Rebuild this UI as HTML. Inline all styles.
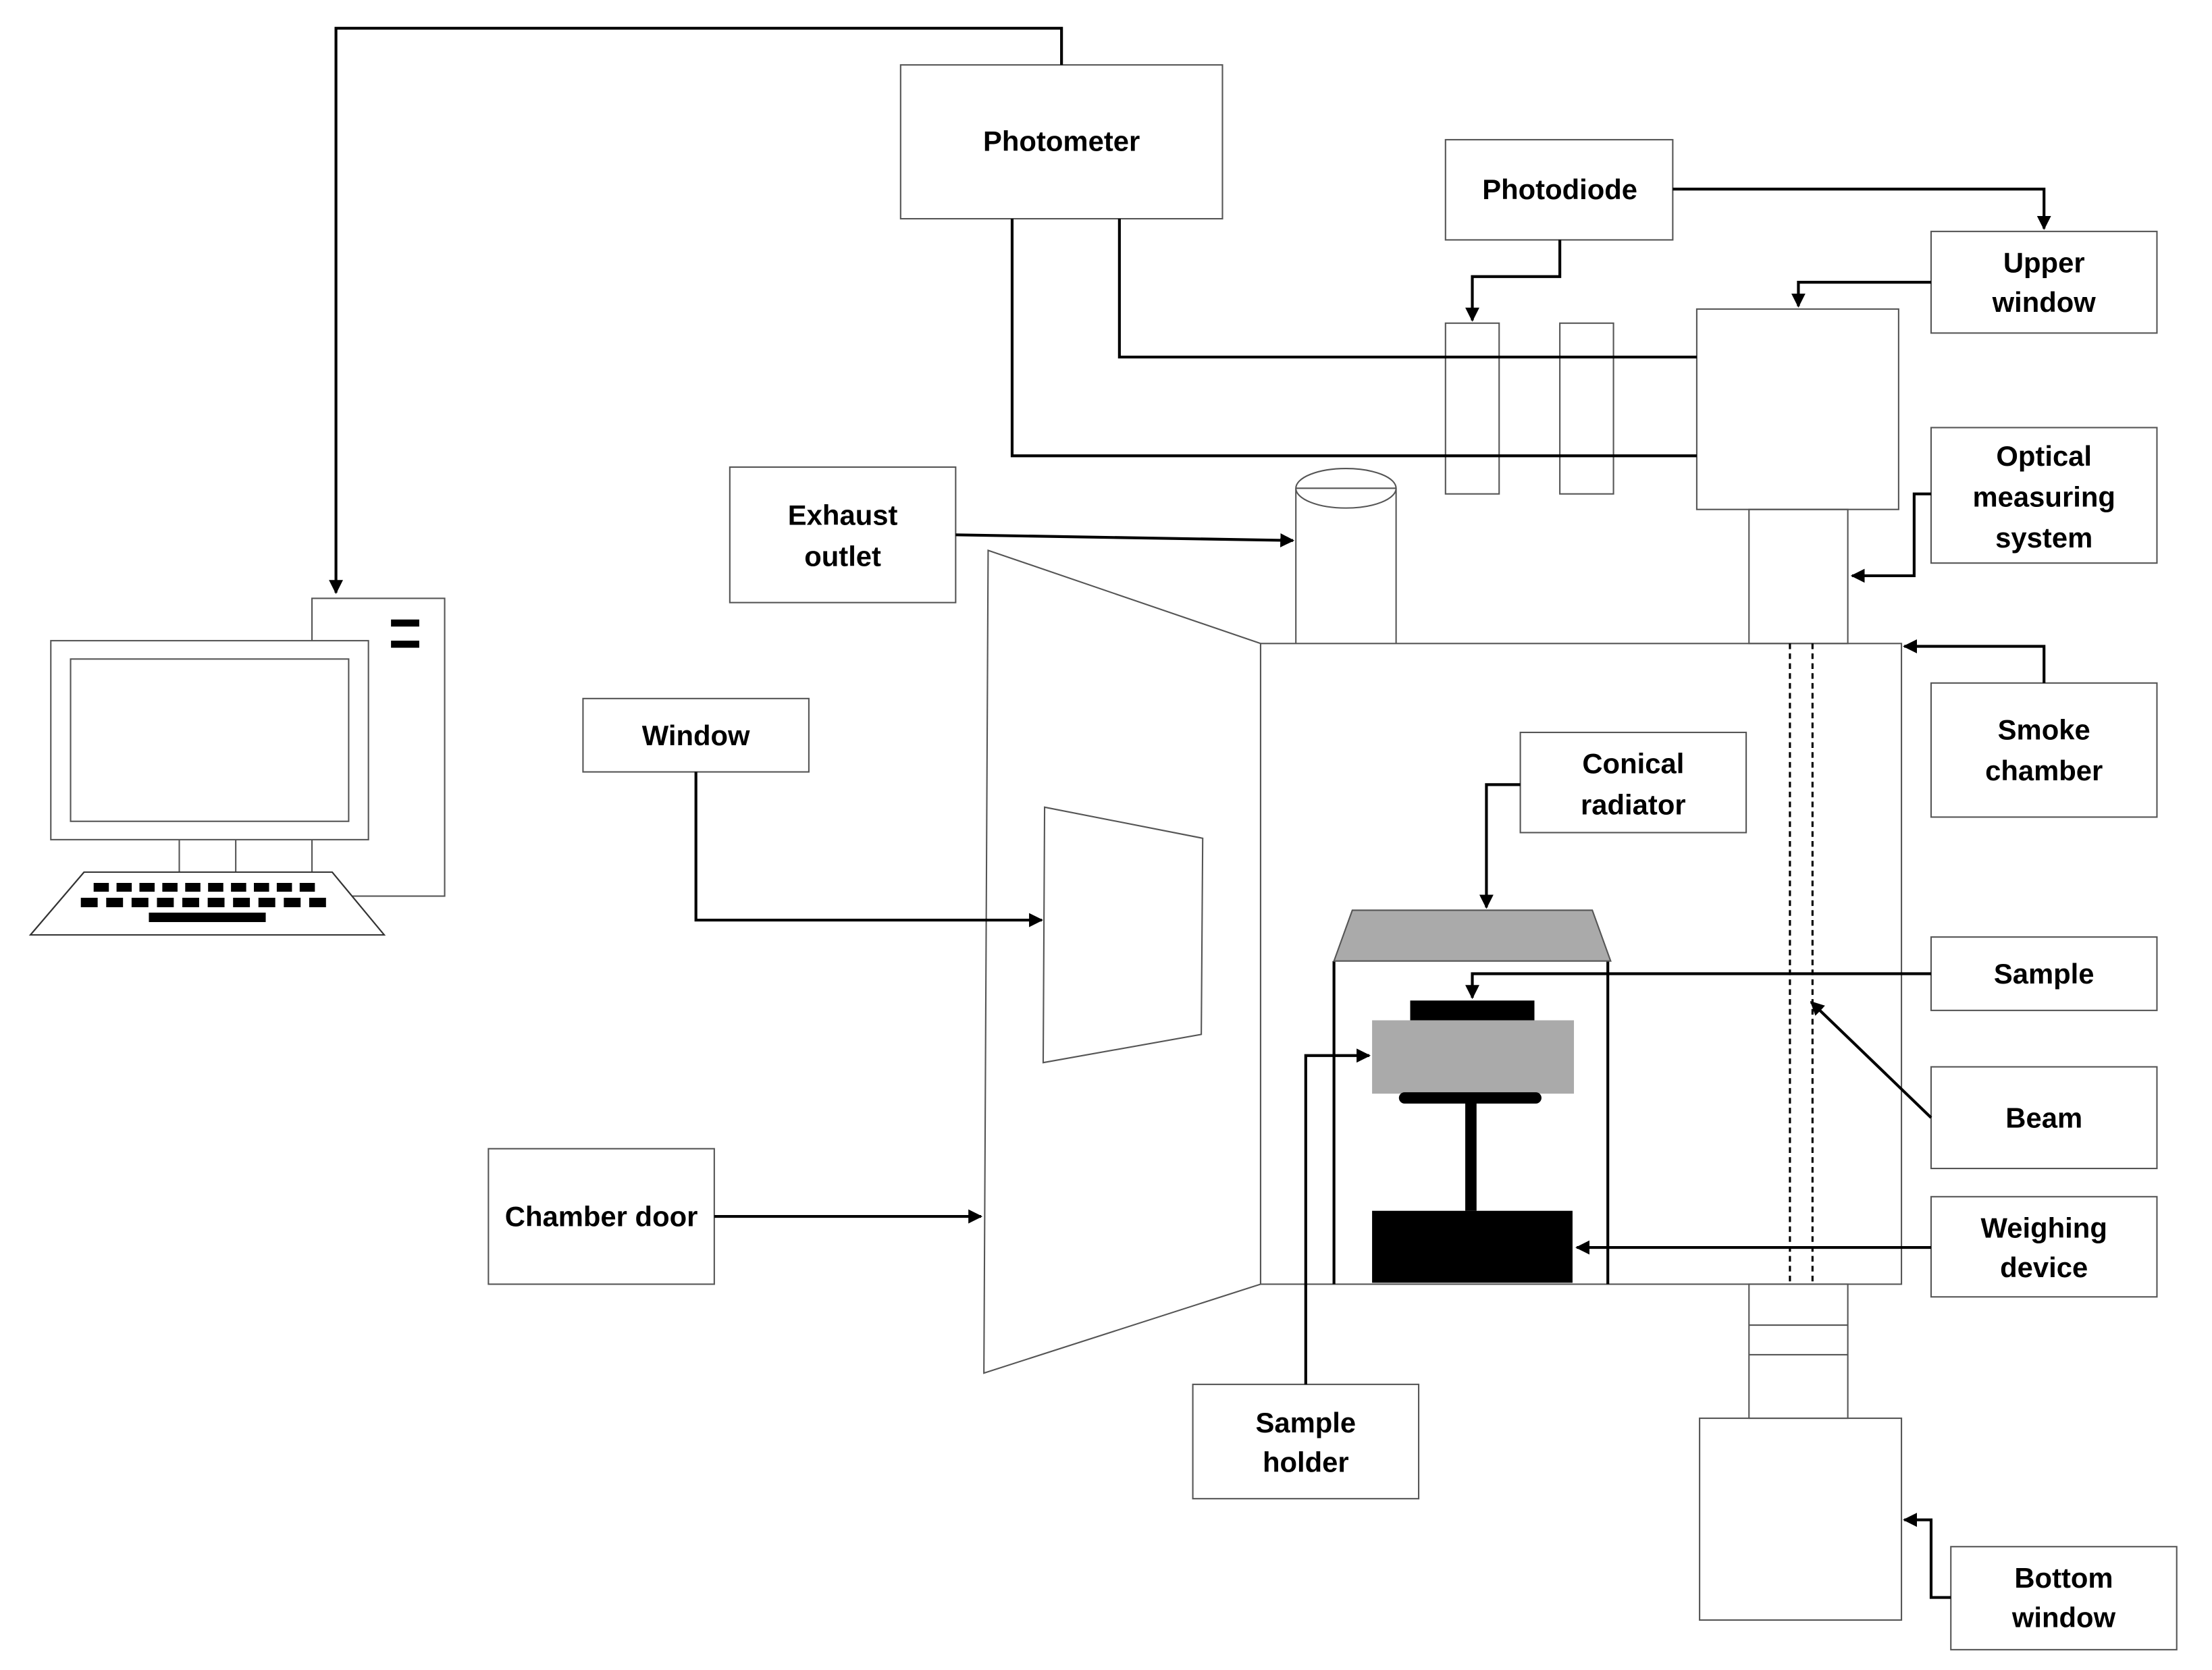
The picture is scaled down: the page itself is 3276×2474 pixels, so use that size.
<!DOCTYPE html>
<html><head><meta charset="utf-8"><style>
html,body{margin:0;padding:0;background:#fff;}
svg{display:block;}
text{font-family:"Liberation Sans",sans-serif;font-weight:bold;font-size:20px;fill:#000;text-anchor:middle;}
</style></head><body>
<svg width="3276" height="2474" viewBox="0 0 1567 1183.4" preserveAspectRatio="none" xmlns="http://www.w3.org/2000/svg">
<defs><marker id="a" markerWidth="10" markerHeight="10" refX="9" refY="5" orient="auto" markerUnits="userSpaceOnUse"><path d="M0,0 L10,5 L0,10 z" fill="#000"/></marker></defs>
<g fill="none" stroke="#555" stroke-width="1">
<rect x="638" y="46" width="228" height="109"/>
<rect x="1024" y="99" width="161" height="71"/>
<rect x="1368" y="164" width="160" height="72"/>
<rect x="1368" y="303" width="160" height="96"/>
<rect x="1368" y="484" width="160" height="95"/>
<rect x="517" y="331" width="160" height="96"/>
<rect x="413" y="495" width="160" height="52"/>
<rect x="346" y="814" width="160" height="96"/>
<rect x="1077" y="519" width="160" height="71"/>
<rect x="1368" y="664" width="160" height="52"/>
<rect x="1368" y="756" width="160" height="72"/>
<rect x="1368" y="848" width="160" height="71"/>
<rect x="845" y="981" width="160" height="81"/>
<rect x="1382" y="1096" width="160" height="73"/>
<rect x="1024" y="229" width="38" height="121"/>
<rect x="1105" y="229" width="38" height="121"/>
<rect x="1202" y="219" width="143" height="142"/>
<rect x="1239" y="361" width="70" height="95"/>
<rect x="893" y="456" width="454" height="454"/>
<rect x="1239" y="910" width="70" height="95"/>
<line x1="1239" y1="939" x2="1309" y2="939"/>
<line x1="1239" y1="960" x2="1309" y2="960"/>
<rect x="1204" y="1005" width="143" height="143"/>
<path d="M918,346 V456 M989,346 V456"/>
<ellipse cx="953.5" cy="346" rx="35.5" ry="14" fill="#fff"/>
<line x1="918" y1="346" x2="989" y2="346"/>
<polygon points="700,390 893,456 893,910 697,973" fill="#fff"/>
<polygon points="740,572 852,594 851,733 739,753"/>
<rect x="221" y="424" width="94" height="211"/>
<rect x="36" y="454" width="225" height="141" fill="#fff"/>
<rect x="50" y="467" width="197" height="115"/>
<path d="M127,595 V618 M167,595 V618"/>
</g>
<g fill="#000">
<rect x="277" y="439" width="20" height="5"/>
<rect x="277" y="454" width="20" height="5"/>
</g>
<g transform="scale(0.567,0.47833)">
<polygon points="105,1292 415,1292 480,1385 38,1385" fill="#fff" stroke="#333" stroke-width="2"/>
<g fill="#000">
<rect x="117" y="1308" width="19" height="13"/><rect x="145.6" y="1308" width="19" height="13"/><rect x="174.2" y="1308" width="19" height="13"/><rect x="202.8" y="1308" width="19" height="13"/><rect x="231.4" y="1308" width="19" height="13"/><rect x="260" y="1308" width="19" height="13"/><rect x="288.6" y="1308" width="19" height="13"/><rect x="317.2" y="1308" width="19" height="13"/><rect x="345.8" y="1308" width="19" height="13"/><rect x="374.4" y="1308" width="19" height="13"/>
<rect x="101" y="1330" width="21" height="14"/><rect x="132.7" y="1330" width="21" height="14"/><rect x="164.4" y="1330" width="21" height="14"/><rect x="196.1" y="1330" width="21" height="14"/><rect x="227.8" y="1330" width="21" height="14"/><rect x="259.5" y="1330" width="21" height="14"/><rect x="291.2" y="1330" width="21" height="14"/><rect x="322.9" y="1330" width="21" height="14"/><rect x="354.6" y="1330" width="21" height="14"/><rect x="386.3" y="1330" width="21" height="14"/>
<rect x="186" y="1352" width="146" height="14"/>
</g>
</g>
<g fill="none" stroke="#000" stroke-width="2">
<path d="M752,46 V20 H238 V420" marker-end="url(#a)"/>
<path d="M1185,134 H1448 V162" marker-end="url(#a)"/>
<path d="M1368,200 H1274 V217" marker-end="url(#a)"/>
<path d="M1105,170 V196 H1043 V227" marker-end="url(#a)"/>
<path d="M793,155 V253 H1202"/>
<path d="M717,155 V323 H1202"/>
<path d="M1368,350 H1356 V408 H1312" marker-end="url(#a)"/>
<path d="M1448,484 V458 H1349" marker-end="url(#a)"/>
<path d="M677,379 L916,383" marker-end="url(#a)"/>
<path d="M493,547 V652 H738" marker-end="url(#a)"/>
<path d="M506,862 H695" marker-end="url(#a)"/>
<path d="M1077,556 H1053 V643" marker-end="url(#a)"/>
<path d="M1368,690 H1043 V707" marker-end="url(#a)"/>
<path d="M1368,792 L1283,710" marker-end="url(#a)"/>
<path d="M1368,884 H1117" marker-end="url(#a)"/>
<path d="M925,981 V748 H970" marker-end="url(#a)"/>
<path d="M1382,1132 H1368 V1077 H1349" marker-end="url(#a)"/>
<path d="M945,681 V910 M1139,681 V910"/>
<path d="M1268,456 V910 M1284,456 V910" stroke-width="1.5" stroke-dasharray="4,3"/>
</g>
<polygon points="958,645 1128,645 1141,681 945,681" fill="#aaa" stroke="#555"/>
<rect x="999" y="709" width="88" height="14" fill="#000"/>
<rect x="972" y="723" width="143" height="52" fill="#aaa"/>
<rect x="991" y="774" width="101" height="8" rx="4" fill="#000"/>
<rect x="1038" y="780" width="8" height="78" fill="#000"/>
<rect x="972" y="858" width="142" height="51" fill="#000"/>
<text x="752" y="107">Photometer</text>
<text x="1105" y="141">Photodiode</text>
<text x="1448" y="193">Upper</text><text x="1448" y="221">window</text>
<text x="1448" y="330">Optical</text><text x="1448" y="359">measuring</text><text x="1448" y="388">system</text>
<text x="597" y="372">Exhaust</text><text x="597" y="401">outlet</text>
<text x="493" y="528">Window</text>
<text x="1448" y="524">Smoke</text><text x="1448" y="553">chamber</text>
<text x="1157" y="548">Conical</text><text x="1157" y="577">radiator</text>
<text x="1448" y="697">Sample</text>
<text x="1448" y="799">Beam</text>
<text x="1448" y="877">Weighing</text><text x="1448" y="905">device</text>
<text x="426" y="869">Chamber door</text>
<text x="925" y="1015">Sample</text><text x="925" y="1043">holder</text>
<text x="1462" y="1125">Bottom</text><text x="1462" y="1153">window</text>
</svg>
</body></html>
